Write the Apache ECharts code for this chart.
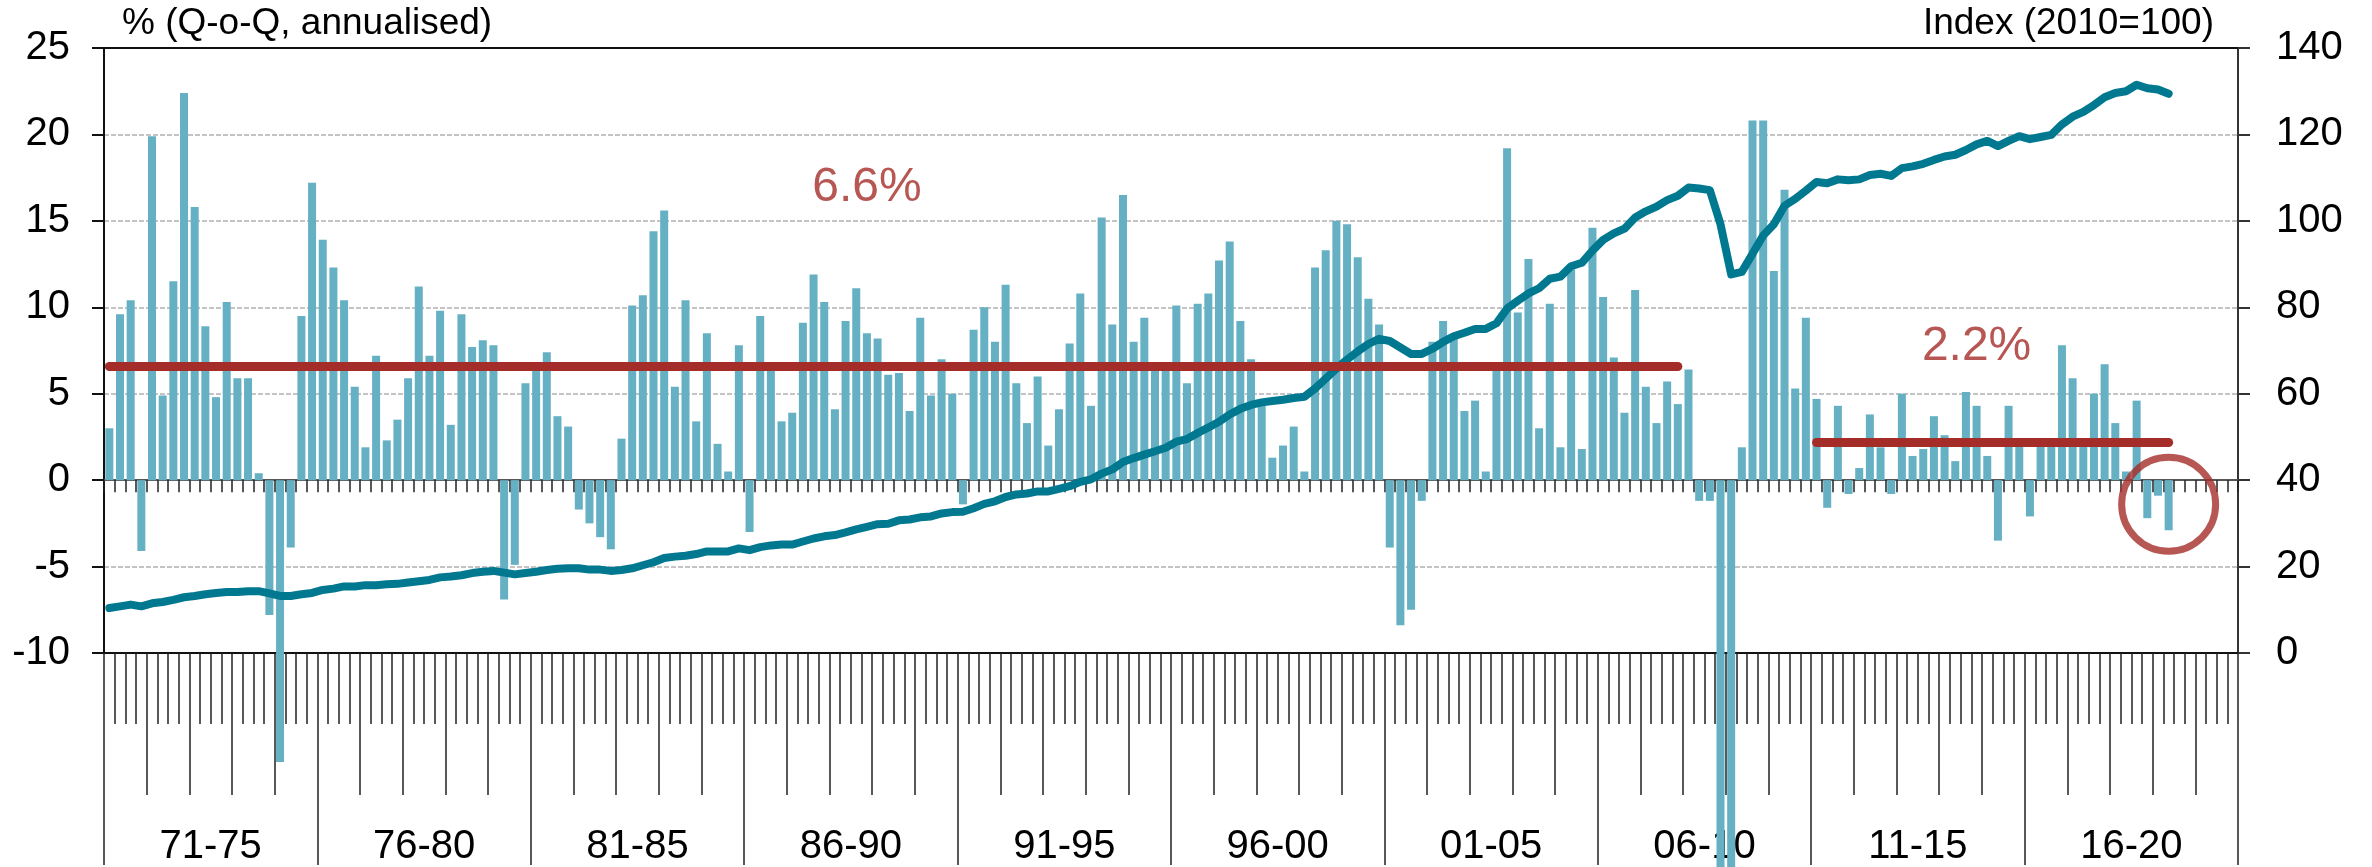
<!DOCTYPE html>
<html>
<head>
<meta charset="utf-8">
<style>
  html, body { margin: 0; padding: 0; background: #fff; }
  #chart { width: 2372px; height: 867px; }
</style>
<script src="https://cdn.jsdelivr.net/npm/echarts@6/dist/echarts.min.js"></script>
</head>
<body>
<div id="chart"></div>
<script>
// Years on the axis, 4 quarters each
const years = [
  1971, 1972, 1973, 1974, 1975, 1976, 1977, 1978, 1979, 1980,
  1981, 1982, 1983, 1984, 1985, 1986, 1987, 1988, 1989, 1990,
  1991, 1992, 1993, 1994, 1995, 1996, 1997, 1998, 1999, 2000,
  2001, 2002, 2003, 2004, 2005, 2006, 2007, 2008, 2009, 2010,
  2011, 2012, 2013, 2014, 2015, 2016, 2017, 2018, 2019, 2020
];
const groupLabels = ['71-75', '76-80', '81-85', '86-90', '91-95', '96-00', '01-05', '06-10', '11-15', '16-20'];

// % Q-o-Q annualised (bars), 1971Q1 .. 2019Q2
const growth = [
  3.0, 9.6, 10.4, -4.1, 19.9, 4.9, 11.5, 22.4, 15.8, 8.9,
  4.8, 10.3, 5.9, 5.9, 0.4, -7.8, -16.3, -3.9, 9.5, 17.2,
  13.9, 12.3, 10.4, 5.4, 1.9, 7.2, 2.3, 3.5, 5.9, 11.2,
  7.2, 9.8, 3.2, 9.6, 7.7, 8.1, 7.8, -6.9, -4.9, 5.6,
  6.4, 7.4, 3.7, 3.1, -1.7, -2.5, -3.3, -4.0, 2.4, 10.1,
  10.7, 14.4, 15.6, 5.4, 10.4, 3.4, 8.5, 2.1, 0.5, 7.8,
  -3.0, 9.5, 6.4, 3.4, 3.9, 9.1, 11.9, 10.3, 4.1, 9.2,
  11.1, 8.5, 8.2, 6.1, 6.2, 4.0, 9.4, 4.9, 7.0, 5.0,
  -1.4, 8.7, 10.0, 8.0, 11.3, 5.6, 3.3, 6.0, 2.0, 4.1,
  7.9, 10.8, 4.3, 15.2, 9.0, 16.5, 8.0, 9.4, 6.5, 6.7,
  10.1, 5.6, 10.2, 10.8, 12.7, 13.8, 9.2, 7.0, 4.5, 1.3,
  2.0, 3.1, 0.5, 12.3, 13.3, 15.0, 14.8, 12.9, 10.5, 9.0,
  -3.9, -8.4, -7.5, -1.2, 8.0, 9.2, 8.3, 4.0, 4.6, 0.5,
  6.8, 19.2, 9.7, 12.8, 3.0, 10.2, 1.9, 12.2, 1.8, 14.6,
  10.6, 7.1, 3.9, 11.0, 5.4, 3.3, 5.7, 4.4, 6.4, -1.2,
  -1.2, -40.0, -55.0, 1.9, 20.8, 20.8, 12.1, 16.8, 5.3, 9.4,
  4.7, -1.6, 4.3, -0.8, 0.7, 3.8, 1.9, -0.8, 5.0, 1.4,
  1.8, 3.7, 2.6, 1.1, 5.1, 4.3, 1.4, -3.5, 4.3, 2.0,
  -2.1, 2.3, 2.1, 7.8, 5.9, 2.1, 5.0, 6.7, 3.3, 0.5,
  4.6, -2.2, -0.9, -2.9
];

// Index (2010=100), right axis
const index2010 = [
  10.4, 10.8, 11.2, 10.8, 11.5, 11.8, 12.3, 12.9, 13.2, 13.6,
  13.9, 14.1, 14.1, 14.3, 14.3, 13.8, 13.2, 13.2, 13.6, 13.9,
  14.6, 14.9, 15.4, 15.4, 15.7, 15.7, 15.9, 16.0, 16.3, 16.6,
  16.9, 17.5, 17.7, 18.0, 18.5, 18.8, 19.0, 18.6, 18.2, 18.5,
  18.8, 19.2, 19.5, 19.6, 19.6, 19.3, 19.3, 19.0, 19.2, 19.6,
  20.3, 21.0, 22.0, 22.3, 22.5, 22.9, 23.5, 23.5, 23.5, 24.2,
  23.8, 24.5, 24.9, 25.1, 25.1, 25.8, 26.5, 27.0, 27.3, 27.9,
  28.6, 29.2, 29.8, 29.9, 30.7, 30.9, 31.4, 31.6, 32.3, 32.6,
  32.7, 33.5, 34.5, 35.1, 36.1, 36.7, 36.9, 37.4, 37.4, 38.0,
  38.6, 39.6, 40.2, 41.5, 42.5, 44.2, 45.1, 45.9, 46.7, 47.5,
  48.9, 49.5, 50.9, 52.2, 53.5, 55.2, 56.5, 57.4, 58.0, 58.3,
  58.6, 59.0, 59.3, 61.2, 63.5, 65.8, 67.9, 69.8, 71.5, 72.7,
  72.2, 70.7, 69.2, 69.2, 70.4, 72.0, 73.3, 74.1, 75.0, 75.0,
  76.3, 79.7, 81.5, 83.2, 84.4, 86.6, 87.1, 89.5, 90.3, 93.1,
  95.6, 97.1, 98.2, 100.8, 102.2, 103.3, 104.8, 105.8, 107.7, 107.5,
  107.1, 99.2, 87.6, 88.2, 92.4, 96.6, 99.2, 103.5, 105.1, 107.0,
  109.0, 108.7, 109.6, 109.4, 109.6, 110.6, 110.9, 110.4, 112.2, 112.6,
  113.2, 114.1, 114.9, 115.3, 116.4, 117.7, 118.5, 117.3, 118.5, 119.6,
  118.9, 119.4, 119.9, 122.3, 124.1, 125.2, 126.8, 128.6, 129.6, 130.0,
  131.5, 130.7, 130.4, 129.4
];

// Period averages drawn as red bars
const avgValues = [6.6, 2.2];
const avgFrom = ['1971Q1', '2011Q1'];
const avgTo = ['2007Q4', '2019Q2'];
const avgLabelAt = ['1988Q4', '2014Q4'];
const avgLabelY = [16.9, 7.7];
// Last quarters highlighted with a circle
const circleAt = ['2019Q2', -1.4];

const RED = '#a52d29';
const BAR = '#66b0c3';
const LINE = '#00788f';
const FONT = 'Liberation Sans, Arial, sans-serif';

const quarters = [];
years.forEach((y) => { for (let q = 1; q <= 4; q++) quarters.push(`${y}Q${q}`); });

const hiddenLabel = { show: false };
const gridGrey = '#c4c4c4';

const chart = echarts.init(document.getElementById('chart'), null, { renderer: 'canvas' });
chart.setOption({
  animation: false,
  textStyle: { fontFamily: FONT },
  grid: { left: 104, right: 134, top: 48, bottom: 212, containLabel: false },
  xAxis: [
    // zero line with short quarter ticks
    {
      type: 'category', data: quarters, position: 'bottom',
      axisLine: { show: true, onZero: true, onZeroAxisIndex: 0, lineStyle: { color: '#555', width: 2 } },
      axisTick: { show: true, interval: 0, length: 12, lineStyle: { color: '#222', width: 1.5 } },
      axisLabel: hiddenLabel, splitLine: { show: false }
    },
    // bottom line, every quarter
    {
      type: 'category', data: quarters, position: 'bottom',
      axisLine: { show: true, onZero: false, lineStyle: { color: '#111', width: 2 } },
      axisTick: { show: true, interval: 0, length: 71, lineStyle: { color: '#222', width: 1.5 } },
      axisLabel: hiddenLabel, splitLine: { show: false }
    },
    // yearly ticks
    {
      type: 'value', min: 0, max: 200, interval: 4, position: 'bottom',
      axisLine: { show: false, onZero: false },
      axisTick: { show: true, length: 142, lineStyle: { color: '#222', width: 1.5 } },
      axisLabel: hiddenLabel, splitLine: { show: false }
    },
    // 5-year groups with labels
    {
      type: 'category', data: groupLabels, position: 'bottom',
      axisLine: { show: false, onZero: false },
      axisTick: { show: true, interval: 0, length: 212, lineStyle: { color: '#222', width: 1.5 } },
      axisLabel: { interval: 0, margin: 174, fontSize: 40, color: '#000', fontFamily: FONT },
      splitLine: { show: false }
    },
    // top border
    {
      type: 'category', data: quarters, position: 'top',
      axisLine: { show: true, onZero: false, lineStyle: { color: '#111', width: 2 } },
      axisTick: { show: false }, axisLabel: hiddenLabel, splitLine: { show: false }
    }
  ],
  yAxis: [
    {
      type: 'value', min: -10, max: 25, interval: 5, position: 'left',
      name: '% (Q-o-Q, annualised)', nameLocation: 'end', nameGap: 6,
      nameTextStyle: { fontSize: 37, color: '#000', align: 'left', padding: [0, 0, 0, 18], fontFamily: FONT },
      axisLine: { show: true, onZero: false, lineStyle: { color: '#111', width: 2 } },
      axisTick: { show: true, length: 12, lineStyle: { color: '#111', width: 2 } },
      axisLabel: { fontSize: 40, color: '#000', margin: 34, fontFamily: FONT },
      splitLine: {
        show: true,
        lineStyle: {
          color: ['transparent', gridGrey, 'transparent', gridGrey, gridGrey, gridGrey, gridGrey, 'transparent'],
          width: 2, type: [5, 2]
        }
      }
    },
    {
      type: 'value', min: 0, max: 140, interval: 20, position: 'right',
      name: 'Index (2010=100)', nameLocation: 'end', nameGap: 6,
      nameTextStyle: { fontSize: 37, color: '#000', align: 'right', padding: [0, 24, 0, 0], fontFamily: FONT },
      axisLine: { show: true, onZero: false, lineStyle: { color: '#333', width: 2 } },
      axisTick: { show: true, length: 12, lineStyle: { color: '#333', width: 2 } },
      axisLabel: { fontSize: 40, color: '#000', margin: 38, fontFamily: FONT },
      splitLine: { show: false }
    }
  ],
  series: [
    {
      type: 'bar',
      data: growth,
      xAxisIndex: 0, yAxisIndex: 0,
      barWidth: '75%',
      clip: false,
      itemStyle: { color: BAR },
      z: 2,
      markLine: {
        silent: true,
        symbol: ['none', 'none'],
        label: { show: false },
        lineStyle: { color: RED, width: 9, type: 'solid', cap: 'round' },
        data: avgValues.map((v, k) => [{ coord: [avgFrom[k], v] }, { coord: [avgTo[k], v] }])
      }
    },
    {
      type: 'line',
      data: index2010,
      xAxisIndex: 0, yAxisIndex: 1,
      showSymbol: false,
      symbol: 'none',
      lineStyle: { color: LINE, width: 8, cap: 'round', join: 'round' },
      z: 4
    },
    {
      // average labels
      type: 'scatter',
      xAxisIndex: 0, yAxisIndex: 0,
      symbolSize: 0,
      silent: true,
      data: avgValues.map((v, k) => ({ name: `${v}%`, value: [avgLabelAt[k], avgLabelY[k]] })),
      label: {
        show: true, position: 'inside', formatter: '{b}',
        fontSize: 48, color: RED, fontFamily: FONT
      },
      z: 5
    },
    {
      // highlight circle
      type: 'scatter',
      xAxisIndex: 0, yAxisIndex: 0,
      symbol: 'circle',
      symbolSize: 94,
      silent: true,
      data: [circleAt],
      itemStyle: { color: 'transparent', borderColor: RED, borderWidth: 7 },
      z: 5
    }
  ]
});
</script>
</body>
</html>
